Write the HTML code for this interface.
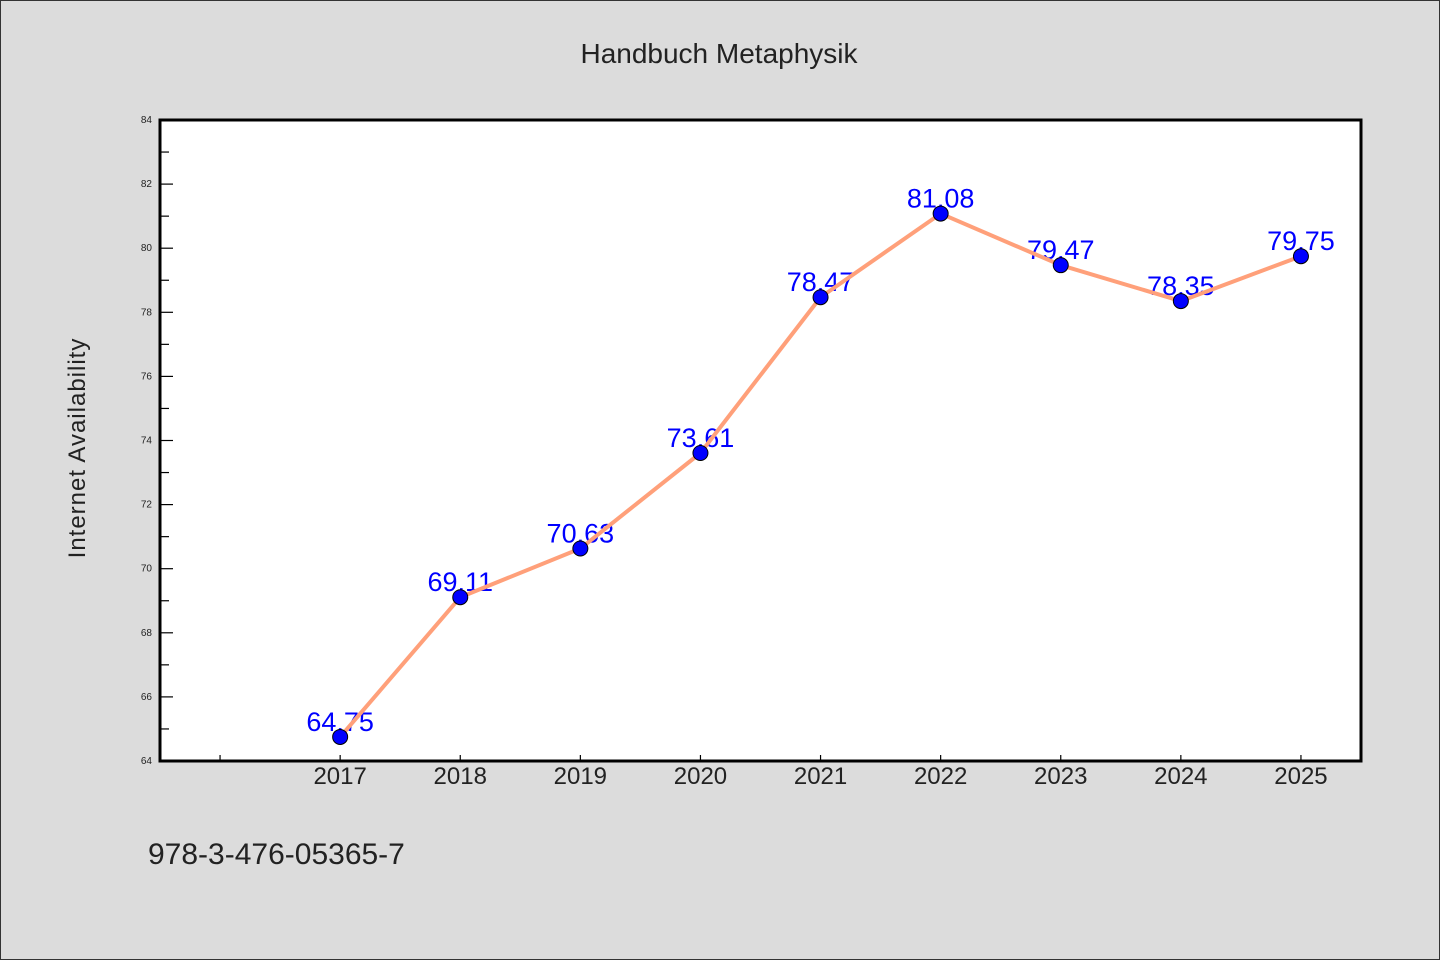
<!DOCTYPE html>
<html><head><meta charset="utf-8"><style>
body{margin:0;background:#dcdcdc;}
svg{display:block;font-family:"WenQuanYi Zen Hei","Liberation Sans",sans-serif;}
</style></head><body>
<svg id="c" width="1440" height="960" xmlns="http://www.w3.org/2000/svg">
<rect x="0.5" y="0.5" width="1439" height="959" fill="#dcdcdc" stroke="#333"/>
<text x="719" y="63" text-anchor="middle" font-size="28" fill="#222">Handbuch Metaphysik</text>
<text transform="translate(85,448) rotate(-90)" text-anchor="middle" font-size="24" fill="#222" letter-spacing="1">Internet Availability</text>
<text x="148" y="864" font-size="30" fill="#222">978-3-476-05365-7</text>
<rect x="160" y="120" width="1201" height="641" fill="#fff"/>
<g id="g"></g>
<rect x="160" y="120" width="1201" height="641" fill="none" stroke="#000" stroke-width="3"/>
</svg>
<script>
const years=[2017,2018,2019,2020,2021,2022,2023,2024,2025];
const values=[64.75,69.11,70.63,73.61,78.47,81.08,79.47,78.35,79.75];
const labels=["64,75","69,11","70,63","73,61","78,47","81,08","79,47","78,35","79,75"];
const yTicks=[64,66,68,70,72,74,76,78,80,82,84];
const NS="http://www.w3.org/2000/svg";
const g=document.getElementById('g');
const X=v=>160+(v-2015.5)*120.1;
const Y=v=>761-(v-64)*32.05;
function mk(t,a,p){const e=document.createElementNS(NS,t);for(const k in a)e.setAttribute(k,a[k]);(p||g).appendChild(e);return e;}
yTicks.forEach(t=>{
 const l=mk('line',{x1:160,x2:173,y1:Y(t),y2:Y(t),stroke:'#000','stroke-width':1.2});
 
 
 if(t<84){const m=mk('line',{x1:160,x2:169,y1:Y(t+1),y2:Y(t+1),stroke:'#000','stroke-width':1.2});
 
 }
 const tx=mk('text',{x:152,y:Y(t)+3,'text-anchor':'end','font-size':10,fill:'#222'});
 tx.textContent=t;
 
 
});
[2016].concat(years).forEach(yr=>{
 const l=mk('line',{x1:X(yr),x2:X(yr),y1:761,y2:755,stroke:'#000','stroke-width':1.2});
 
 
});
years.forEach(yr=>{
 const tx=mk('text',{x:X(yr),y:784,'text-anchor':'middle','font-size':24,fill:'#222'});
 tx.textContent=yr;
 
 
});
values.forEach((v,i)=>{
 const tx=mk('text',{x:X(years[i]),y:Y(v)-6,'text-anchor':'middle','font-size':27,fill:'#0000ff'});
 tx.textContent=labels[i];
 
 
});
const pl=mk('polyline',{points:values.map((v,i)=>X(years[i])+','+Y(v)).join(' '),fill:'none',stroke:'#ffa07a','stroke-width':4,'stroke-linejoin':'round'});


values.forEach((v,i)=>{
 const c=mk('circle',{cx:X(years[i]),cy:Y(v),r:7.5,fill:'#0000ff',stroke:'#000','stroke-width':1});
 
 
});
</script>
</body></html>
